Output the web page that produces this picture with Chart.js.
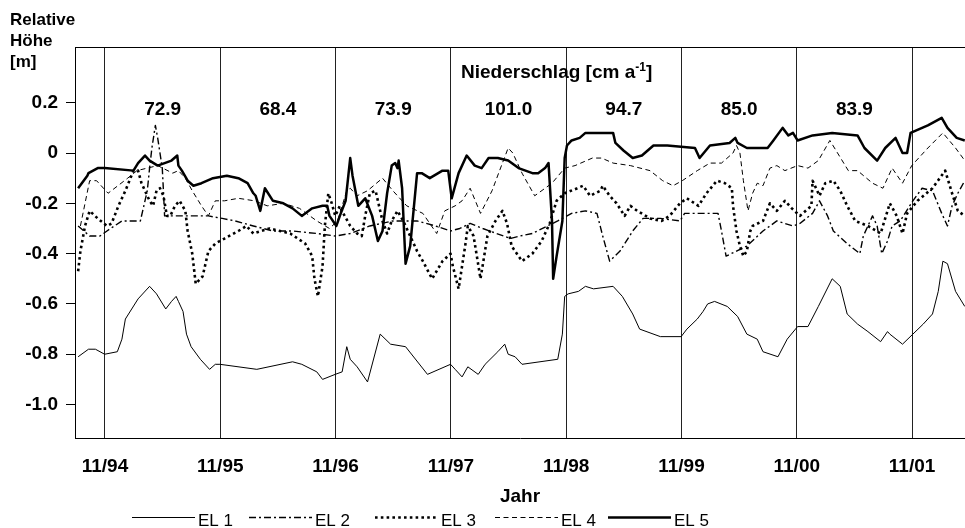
<!DOCTYPE html>
<html>
<head>
<meta charset="utf-8">
<script src="https://cdn.jsdelivr.net/npm/chart.js@4/dist/chart.umd.min.js"></script>
<style>
  html, body { margin: 0; padding: 0; background: #fff; }
  #wrap { width: 965px; height: 528px; }
</style>
</head>
<body>
<div id="wrap"><canvas id="chart" width="965" height="528"></canvas></div>
<script>
// Messreihen: [Jahr (dezimal), relative Höhe in m]
const EL1 = [
  [1994.60,-0.81],[1994.69,-0.78],[1994.75,-0.78],[1994.83,-0.80],[1994.94,-0.79],[1994.98,-0.74],
  [1995.01,-0.66],[1995.12,-0.58],[1995.22,-0.53],[1995.28,-0.56],[1995.36,-0.62],[1995.41,-0.59],
  [1995.45,-0.57],[1995.47,-0.59],[1995.51,-0.63],[1995.54,-0.72],[1995.58,-0.77],[1995.66,-0.82],
  [1995.74,-0.86],[1995.79,-0.84],[1995.83,-0.84],[1996.15,-0.86],[1996.46,-0.83],[1996.54,-0.84],
  [1996.67,-0.87],[1996.72,-0.90],[1996.83,-0.88],[1996.89,-0.87],[1996.93,-0.77],[1996.96,-0.82],
  [1997.02,-0.85],[1997.11,-0.91],[1997.22,-0.72],[1997.31,-0.76],[1997.44,-0.77],[1997.63,-0.88],
  [1997.83,-0.84],[1997.87,-0.86],[1997.93,-0.89],[1997.98,-0.85],[1998.07,-0.88],[1998.13,-0.84],
  [1998.24,-0.79],[1998.30,-0.76],[1998.33,-0.80],[1998.39,-0.81],[1998.45,-0.84],[1998.76,-0.82],
  [1998.80,-0.72],[1998.82,-0.57],[1998.85,-0.56],[1998.94,-0.55],[1999.00,-0.53],[1999.07,-0.54],
  [1999.24,-0.53],[1999.32,-0.57],[1999.41,-0.64],[1999.47,-0.70],[1999.65,-0.73],[1999.83,-0.73],
  [1999.88,-0.70],[1999.97,-0.66],[2000.02,-0.63],[2000.06,-0.60],[2000.12,-0.59],[2000.23,-0.61],
  [2000.32,-0.65],[2000.40,-0.72],[2000.49,-0.74],[2000.54,-0.79],[2000.67,-0.81],[2000.75,-0.74],
  [2000.84,-0.69],[2000.93,-0.69],[2001.02,-0.61],[2001.14,-0.50],[2001.21,-0.53],[2001.27,-0.64],
  [2001.36,-0.68],[2001.45,-0.71],[2001.56,-0.75],[2001.62,-0.71],[2001.64,-0.72],[2001.75,-0.76],
  [2001.84,-0.72],[2001.93,-0.68],[2002.01,-0.64],[2002.06,-0.55],[2002.10,-0.43],[2002.14,-0.44],
  [2002.21,-0.55],[2002.29,-0.61]
];

const EL2 = [
  [1994.60,-0.29],[1994.70,-0.33],[1994.79,-0.33],[1994.85,-0.31],[1994.98,-0.27],[1995.14,-0.27],
  [1995.16,-0.23],[1995.20,-0.15],[1995.22,-0.06],[1995.24,0.02],[1995.27,0.11],[1995.29,0.06],
  [1995.31,0.00],[1995.33,-0.06],[1995.34,-0.15],[1995.35,-0.25],[1995.53,-0.25],[1995.73,-0.25],
  [1995.85,-0.26],[1995.96,-0.27],[1996.12,-0.29],[1996.29,-0.31],[1996.46,-0.31],[1996.67,-0.32],
  [1996.83,-0.33],[1996.96,-0.32],[1997.13,-0.29],[1997.33,-0.27],[1997.54,-0.27],[1997.70,-0.29],
  [1997.83,-0.31],[1997.91,-0.30],[1998.00,-0.28],[1998.11,-0.30],[1998.23,-0.32],[1998.35,-0.34],
  [1998.43,-0.33],[1998.54,-0.32],[1998.67,-0.29],[1998.76,-0.27],[1998.88,-0.24],[1999.00,-0.23],
  [1999.10,-0.24],[1999.15,-0.33],[1999.21,-0.43],[1999.30,-0.39],[1999.41,-0.31],[1999.50,-0.26],
  [1999.65,-0.26],[1999.82,-0.27],[1999.86,-0.24],[1999.99,-0.24],[2000.15,-0.24],[2000.18,-0.31],
  [2000.22,-0.41],[2000.31,-0.39],[2000.40,-0.37],[2000.54,-0.31],[2000.66,-0.27],[2000.80,-0.29],
  [2000.86,-0.28],[2000.97,-0.24],[2001.03,-0.19],[2001.10,-0.25],[2001.15,-0.31],[2001.27,-0.36],
  [2001.38,-0.40],[2001.41,-0.33],[2001.49,-0.25],[2001.53,-0.29],[2001.57,-0.40],[2001.62,-0.35],
  [2001.66,-0.29],[2001.73,-0.27],[2001.84,-0.19],[2001.92,-0.14],[2002.01,-0.15],[2002.09,-0.24],
  [2002.14,-0.29],[2002.18,-0.21],[2002.23,-0.16],[2002.29,-0.11]
];

const EL3 = [
  [1994.60,-0.47],[1994.62,-0.39],[1994.66,-0.29],[1994.70,-0.23],[1994.77,-0.26],[1994.85,-0.29],
  [1994.89,-0.28],[1994.95,-0.21],[1995.01,-0.15],[1995.08,-0.07],[1995.12,-0.07],[1995.15,-0.12],
  [1995.18,-0.15],[1995.22,-0.19],[1995.25,-0.21],[1995.28,-0.15],[1995.31,-0.14],[1995.34,-0.17],
  [1995.37,-0.25],[1995.40,-0.25],[1995.44,-0.21],[1995.48,-0.19],[1995.53,-0.23],[1995.55,-0.31],
  [1995.59,-0.40],[1995.62,-0.52],[1995.68,-0.49],[1995.73,-0.39],[1995.79,-0.36],[1995.87,-0.34],
  [1995.99,-0.31],[1996.06,-0.29],[1996.12,-0.32],[1996.26,-0.30],[1996.44,-0.32],[1996.57,-0.36],
  [1996.63,-0.41],[1996.65,-0.50],[1996.68,-0.57],[1996.72,-0.45],[1996.74,-0.29],[1996.77,-0.16],
  [1996.80,-0.20],[1996.83,-0.25],[1996.87,-0.21],[1996.90,-0.24],[1996.96,-0.29],[1997.02,-0.32],
  [1997.06,-0.33],[1997.09,-0.25],[1997.13,-0.16],[1997.18,-0.15],[1997.20,-0.19],[1997.24,-0.27],
  [1997.28,-0.32],[1997.32,-0.27],[1997.37,-0.23],[1997.42,-0.27],[1997.48,-0.33],[1997.54,-0.39],
  [1997.59,-0.43],[1997.67,-0.50],[1997.76,-0.43],[1997.83,-0.40],[1997.85,-0.45],[1997.90,-0.54],
  [1997.96,-0.36],[1997.98,-0.29],[1998.03,-0.33],[1998.09,-0.50],[1998.15,-0.33],[1998.22,-0.27],
  [1998.28,-0.23],[1998.32,-0.28],[1998.36,-0.37],[1998.45,-0.43],[1998.54,-0.40],[1998.62,-0.35],
  [1998.69,-0.28],[1998.75,-0.19],[1998.82,-0.16],[1998.93,-0.14],[1998.98,-0.13],[1999.04,-0.17],
  [1999.13,-0.15],[1999.15,-0.13],[1999.21,-0.17],[1999.27,-0.20],[1999.34,-0.25],[1999.39,-0.21],
  [1999.45,-0.23],[1999.56,-0.26],[1999.66,-0.27],[1999.73,-0.25],[1999.82,-0.20],[1999.88,-0.18],
  [1999.98,-0.21],[2000.05,-0.16],[2000.14,-0.11],[2000.21,-0.12],[2000.27,-0.14],[2000.28,-0.21],
  [2000.31,-0.31],[2000.34,-0.37],[2000.37,-0.41],[2000.40,-0.39],[2000.43,-0.31],[2000.45,-0.29],
  [2000.54,-0.27],[2000.60,-0.20],[2000.66,-0.23],[2000.73,-0.19],[2000.79,-0.22],[2000.86,-0.25],
  [2000.96,-0.21],[2000.97,-0.11],[2001.01,-0.15],[2001.03,-0.17],[2001.08,-0.12],[2001.15,-0.11],
  [2001.21,-0.15],[2001.27,-0.21],[2001.34,-0.27],[2001.45,-0.29],[2001.56,-0.32],[2001.64,-0.20],
  [2001.70,-0.25],[2001.75,-0.32],[2001.79,-0.24],[2001.88,-0.19],[2002.01,-0.14],[2002.12,-0.07],
  [2002.18,-0.16],[2002.23,-0.23],[2002.29,-0.25]
];

const EL4 = [
  [1994.62,-0.29],[1994.66,-0.20],[1994.70,-0.11],[1994.76,-0.11],[1994.82,-0.14],[1994.86,-0.16],
  [1995.03,-0.10],[1995.11,-0.07],[1995.20,-0.06],[1995.29,-0.05],[1995.42,-0.08],[1995.47,-0.07],
  [1995.53,-0.10],[1995.59,-0.15],[1995.67,-0.21],[1995.73,-0.25],[1995.79,-0.19],[1995.87,-0.19],
  [1995.99,-0.18],[1996.13,-0.19],[1996.24,-0.21],[1996.38,-0.20],[1996.52,-0.22],[1996.67,-0.27],
  [1996.78,-0.30],[1996.85,-0.27],[1996.93,-0.15],[1996.96,-0.14],[1997.02,-0.17],[1997.11,-0.15],
  [1997.24,-0.10],[1997.33,-0.15],[1997.45,-0.21],[1997.59,-0.24],[1997.71,-0.32],[1997.78,-0.23],
  [1997.87,-0.21],[1997.93,-0.19],[1998.00,-0.14],[1998.09,-0.24],[1998.19,-0.15],[1998.28,-0.04],
  [1998.33,0.02],[1998.37,0.00],[1998.45,-0.08],[1998.56,-0.17],[1998.71,-0.12],[1998.82,-0.06],
  [1998.91,-0.05],[1999.06,-0.02],[1999.14,-0.02],[1999.24,-0.04],[1999.39,-0.05],[1999.56,-0.07],
  [1999.67,-0.11],[1999.76,-0.13],[1999.84,-0.11],[1999.97,-0.07],[2000.08,-0.04],[2000.18,-0.04],
  [2000.28,0.00],[2000.31,0.03],[2000.34,0.00],[2000.37,-0.11],[2000.41,-0.23],[2000.45,-0.16],
  [2000.49,-0.12],[2000.54,-0.13],[2000.60,-0.06],[2000.66,-0.05],[2000.73,-0.07],[2000.84,-0.05],
  [2000.93,-0.06],[2001.02,-0.03],[2001.12,0.05],[2001.28,-0.07],[2001.36,-0.07],[2001.49,-0.12],
  [2001.58,-0.14],[2001.66,-0.06],[2001.75,-0.12],[2001.83,-0.05],[2001.97,0.02],[2002.10,0.08],
  [2002.21,0.02],[2002.29,-0.03]
];

const EL5 = [
  [1994.60,-0.14],[1994.68,-0.09],[1994.69,-0.08],[1994.77,-0.06],[1994.83,-0.06],[1995.08,-0.07],
  [1995.12,-0.04],[1995.18,-0.01],[1995.22,-0.03],[1995.29,-0.05],[1995.41,-0.03],[1995.46,-0.01],
  [1995.47,-0.05],[1995.50,-0.07],[1995.55,-0.11],[1995.60,-0.13],[1995.67,-0.12],[1995.77,-0.10],
  [1995.89,-0.09],[1995.99,-0.10],[1996.07,-0.12],[1996.12,-0.16],[1996.14,-0.17],[1996.18,-0.23],
  [1996.22,-0.14],[1996.29,-0.19],[1996.38,-0.20],[1996.46,-0.22],[1996.54,-0.25],[1996.63,-0.22],
  [1996.72,-0.21],[1996.76,-0.21],[1996.78,-0.25],[1996.84,-0.29],[1996.87,-0.25],[1996.92,-0.19],
  [1996.96,-0.02],[1996.98,-0.09],[1997.03,-0.21],[1997.09,-0.18],[1997.15,-0.25],[1997.20,-0.35],
  [1997.24,-0.31],[1997.28,-0.16],[1997.32,-0.05],[1997.35,-0.04],[1997.37,-0.06],[1997.38,-0.03],
  [1997.41,-0.14],[1997.44,-0.44],[1997.48,-0.37],[1997.54,-0.08],[1997.58,-0.08],[1997.65,-0.10],
  [1997.76,-0.07],[1997.81,-0.07],[1997.84,-0.18],[1997.90,-0.08],[1997.97,-0.01],[1998.04,-0.05],
  [1998.10,-0.06],[1998.16,-0.02],[1998.24,-0.02],[1998.33,-0.03],[1998.42,-0.06],[1998.54,-0.08],
  [1998.59,-0.08],[1998.65,-0.06],[1998.68,-0.04],[1998.71,-0.27],[1998.72,-0.50],[1998.75,-0.41],
  [1998.80,-0.27],[1998.82,-0.02],[1998.84,0.03],[1998.88,0.05],[1998.95,0.06],[1999.00,0.08],
  [1999.06,0.08],[1999.24,0.08],[1999.26,0.04],[1999.33,0.01],[1999.41,-0.02],[1999.49,-0.01],
  [1999.59,0.03],[1999.71,0.03],[1999.95,0.02],[1999.99,-0.02],[2000.08,0.03],[2000.25,0.04],
  [2000.30,0.06],[2000.32,0.04],[2000.40,0.02],[2000.58,0.02],[2000.63,0.05],[2000.71,0.10],
  [2000.76,0.07],[2000.80,0.08],[2000.84,0.05],[2000.97,0.07],[2001.14,0.08],[2001.36,0.07],
  [2001.42,0.02],[2001.53,-0.03],[2001.60,0.02],[2001.69,0.06],[2001.75,0.00],[2001.79,0.00],
  [2001.82,0.08],[2001.97,0.11],[2002.09,0.14],[2002.14,0.10],[2002.22,0.06],[2002.29,0.05]
];

// Achsenbeschriftung
const tickYears = [1994.833, 1995.833, 1996.833, 1997.833, 1998.833, 1999.833, 2000.833, 2001.833];
const tickLabels = ["11/94", "11/95", "11/96", "11/97", "11/98", "11/99", "11/00", "11/01"];
const yTicks = [0.2, 0, -0.2, -0.4, -0.6, -0.8, -1.0];

// Jahresniederschlag je Messjahr (11/xx bis 11/xx+1)
const precip = [72.9, 68.4, 73.9, 101.0, 94.7, 85.0, 83.9];

const FONT = '"Liberation Sans", Arial, Helvetica, sans-serif';

function toXY(arr) {
    return arr.map(p => ({ x: p[0], y: p[1] }));
}

// Texte, oberer Rahmen und Legende
const extras = {
    id: "extras",
    afterDraw(chart) {
        const ctx = chart.ctx;
        const area = chart.chartArea;
        const xs = chart.scales.x;
        const ys = chart.scales.y;
        ctx.save();

        // oberer Rahmen
        ctx.strokeStyle = "#000";
        ctx.lineWidth = 1;
        ctx.beginPath();
        ctx.moveTo(area.left, area.top + 0.5);
        ctx.lineTo(area.right, area.top + 0.5);
        ctx.stroke();

        ctx.fillStyle = "#000";

        // y-Achsentitel
        ctx.font = "bold 17px " + FONT;
        ctx.textAlign = "left";
        ctx.textBaseline = "alphabetic";
        ["Relative", "Höhe", "[m]"].forEach((t, i) => ctx.fillText(t, 10, 25 + i * 21));

        // Niederschlag [cm a-1]
        ctx.font = "bold 19px " + FONT;
        let x = 461;
        const yb = 78;
        ctx.fillText("Niederschlag [cm a", x, yb);
        x += ctx.measureText("Niederschlag [cm a").width;
        ctx.font = "bold 12px " + FONT;
        ctx.fillText("-1", x, yb - 7);
        x += ctx.measureText("-1").width;
        ctx.font = "bold 19px " + FONT;
        ctx.fillText("]", x, yb);

        // Werte je Jahr
        ctx.textAlign = "center";
        ctx.textBaseline = "middle";
        precip.forEach((v, i) => {
            const px = xs.getPixelForValue(tickYears[i] + 0.5);
            ctx.fillText(v.toFixed(1), px, ys.getPixelForValue(0.17));
        });

        // Legende
        const legX = [132, 249, 375, 495, 608];
        const lineLen = 63;
        const ly = 517.5;
        ctx.font = "17px " + FONT;
        ctx.textAlign = "left";
        ctx.textBaseline = "alphabetic";
        chart.data.datasets.forEach((ds, i) => {
            ctx.save();
            ctx.strokeStyle = ds.borderColor;
            ctx.lineWidth = ds.borderWidth;
            ctx.setLineDash(ds.borderDash || []);
            ctx.beginPath();
            ctx.moveTo(legX[i], ly);
            ctx.lineTo(legX[i] + lineLen, ly);
            ctx.stroke();
            ctx.restore();
            ctx.fillText(ds.label, legX[i] + lineLen + 3, 526);
        });

        ctx.restore();
    }
};

const lineBase = {
    borderColor: "#000",
    pointRadius: 0,
    tension: 0,
    fill: false,
    borderJoinStyle: "round"
};

new Chart(document.getElementById("chart"), {
    type: "line",
    data: {
        datasets: [
            { ...lineBase, label: "EL 1", data: toXY(EL1), borderWidth: 1, borderDash: [] },
            { ...lineBase, label: "EL 2", data: toXY(EL2), borderWidth: 1.4, borderDash: [7, 3, 2, 3] },
            { ...lineBase, label: "EL 3", data: toXY(EL3), borderWidth: 2.6, borderDash: [2.6, 3.2] },
            { ...lineBase, label: "EL 4", data: toXY(EL4), borderWidth: 1, borderDash: [5, 3.5] },
            { ...lineBase, label: "EL 5", data: toXY(EL5), borderWidth: 2.5, borderDash: [] }
        ]
    },
    options: {
        responsive: false,
        animation: false,
        devicePixelRatio: 1,
        layout: { padding: { top: 47, left: 0, right: 0, bottom: 0 } },
        plugins: {
            legend: { display: false },
            tooltip: { enabled: false }
        },
        scales: {
            x: {
                type: "linear",
                min: 1994.573,
                max: 2002.292,
                afterFit: s => { s.height = 90; },
                afterBuildTicks: s => { s.ticks = tickYears.map(v => ({ value: v })); },
                ticks: {
                    autoSkip: false,
                    maxRotation: 0,
                    padding: 17,
                    color: "#000",
                    font: { family: FONT, size: 19, weight: "bold" },
                    callback: (v, i) => tickLabels[i]
                },
                grid: { color: "#222", lineWidth: 1, drawTicks: false },
                border: { display: true, color: "#000", width: 1 },
                title: {
                    display: true,
                    text: "Jahr",
                    color: "#000",
                    font: { family: FONT, size: 19, weight: "bold" },
                    padding: { top: 0, bottom: 20 }
                }
            },
            y: {
                type: "linear",
                min: -1.133,
                max: 0.4215,
                afterFit: s => { s.width = 75; },
                afterBuildTicks: s => { s.ticks = yTicks.map(v => ({ value: v })); },
                ticks: {
                    padding: 8,
                    color: "#000",
                    font: { family: FONT, size: 19, weight: "bold" },
                    callback: v => (v === 0 ? "0" : v.toFixed(1))
                },
                grid: { drawOnChartArea: false, drawTicks: true, tickLength: 9, color: "#000", lineWidth: 1 },
                border: { display: true, color: "#000", width: 1 }
            }
        }
    },
    plugins: [extras]
});
</script>
</body>
</html>
